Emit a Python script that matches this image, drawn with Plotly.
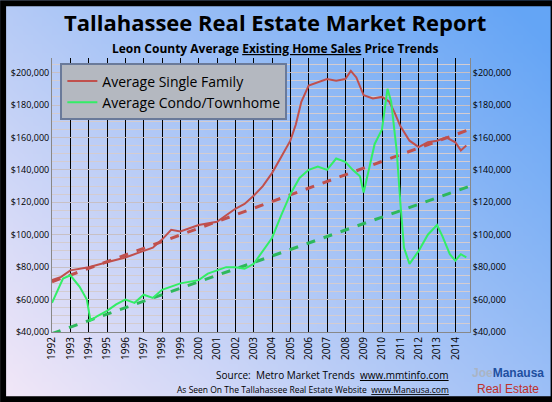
import plotly.graph_objects as go
import numpy as np, zlib, struct, base64

sf_x = [1992.0,1992.5,1993.0,1993.5,1994.0,1995.0,1996.0,1997.0,1997.5,1998.0,1998.5,1999.0,2000.0,2001.0,2001.5,2002.0,2002.5,2003.0,2003.5,2004.0,2004.5,2005.0,2005.3,2005.6,2006.0,2006.5,2007.0,2007.5,2008.0,2008.3,2008.6,2009.0,2009.5,2010.0,2010.4,2010.7,2011.0,2011.5,2012.0,2012.5,2013.0,2013.5,2014.0,2014.3,2014.6]
sf_y = [72000,74000,78000,79000,80000,83000,86000,90000,92000,97000,103000,102000,106000,108000,112000,116000,119000,124000,130000,138000,148000,158000,168000,182000,192000,194000,196000,195000,196000,201000,197000,186000,184000,185000,182000,175000,167000,158000,154000,157000,158000,160000,157000,152000,155000]
co_x = [1992.0,1992.3,1992.6,1993.0,1993.5,1993.9,1994.1,1994.5,1995.0,1995.5,1996.0,1996.5,1997.0,1997.5,1998.0,1999.0,2000.0,2000.5,2001.0,2001.5,2002.0,2002.5,2003.0,2003.5,2004.0,2004.5,2005.0,2005.5,2006.0,2006.5,2007.0,2007.5,2008.0,2008.4,2008.8,2009.0,2009.3,2009.6,2010.0,2010.3,2010.5,2010.8,2011.0,2011.2,2011.5,2012.0,2012.5,2013.0,2013.3,2013.7,2014.0,2014.3,2014.6]
co_y = [58000,66000,73000,75000,68000,60000,47000,50000,53000,57000,60000,58000,63000,61000,66000,70000,72000,76000,78000,80000,80000,79000,82000,90000,98000,112000,125000,135000,140000,142000,140000,147000,145000,140000,136000,126000,142000,156000,165000,190000,182000,152000,120000,92000,82000,90000,100000,106000,99000,88000,84000,88000,86000]
tr_x = [1992.0, 2014.8]
sf_tr = [71000, 165000]
co_tr = [39000, 130000]
years = list(range(1992, 2015))
yticks = [40000,60000,80000,100000,120000,140000,160000,180000,200000]
ytext = ["$40,000","$60,000","$80,000","$100,000","$120,000","$140,000","$160,000","$180,000","$200,000"]

W,H = 64,48
img = np.zeros((H,W,3))
c0 = np.array([250,235,248]); c1 = np.array([100,165,245])
for j in range(H):
    for i in range(W):
        t = (i/(W-1))*0.65 + (1-j/(H-1))*0.45
        t = min(max(t,0),1)
        img[j,i] = c0*(1-t)+c1*t
raw = b''.join(b'\x00'+img[j].astype(np.uint8).tobytes() for j in range(H))
def chunk(t,d): return struct.pack('>I',len(d))+t+d+struct.pack('>I',zlib.crc32(t+d)&0xffffffff)
png = b'\x89PNG\r\n\x1a\n'+chunk(b'IHDR',struct.pack('>IIBBBBB',W,H,8,2,0,0,0))+chunk(b'IDAT',zlib.compress(raw))+chunk(b'IEND',b'')
uri = 'data:image/png;base64,'+base64.b64encode(png).decode()

fig = go.Figure()
fig.add_trace(go.Scatter(x=tr_x, y=sf_tr, mode='lines', line=dict(color='#c0504d', width=3, dash='dash'), showlegend=False))
fig.add_trace(go.Scatter(x=tr_x, y=co_tr, mode='lines', line=dict(color='#2eb85c', width=3, dash='dash'), showlegend=False))
fig.add_trace(go.Scatter(x=sf_x, y=sf_y, mode='lines', name='Average Single Family', line=dict(color='#c0504d', width=2)))
fig.add_trace(go.Scatter(x=co_x, y=co_y, mode='lines', name='Average Condo/Townhome', line=dict(color='#33ee66', width=2)))
fig.add_trace(go.Scatter(x=[1992], y=[40000], yaxis='y2', mode='markers', marker=dict(opacity=0), showlegend=False, hoverinfo='skip'))

font = "Open Sans"
fig.update_layout(
    width=552, height=402, margin=dict(l=52, r=82, t=58, b=70),
    paper_bgcolor='white', plot_bgcolor='rgba(0,0,0,0)',
    images=[dict(source=uri, xref='paper', yref='paper', x=-0.2, y=1.3, sizex=1.5, sizey=1.6, sizing='stretch', layer='below')],
    xaxis=dict(range=[1992, 2014.8], tickvals=years, ticktext=[str(y) for y in years], tickangle=-90,
               showgrid=True, gridcolor='black', gridwidth=1, showline=True, linecolor='#888',
               tickfont=dict(family=font, size=10, color='black'), zeroline=False, ticks=''),
    yaxis=dict(range=[40000, 209000], tickvals=yticks, ticktext=ytext, showgrid=True, gridcolor='#c8c0c4',
               minor=dict(dtick=5000, showgrid=True, gridcolor='#d4ccd0'),
               showline=True, linecolor='#888', tickfont=dict(family=font, size=9, color='black'), zeroline=False),
    yaxis2=dict(range=[40000, 209000], overlaying='y', side='right', tickvals=yticks, ticktext=ytext,
                showgrid=False, showline=True, linecolor='#888', tickfont=dict(family=font, size=9, color='black')),
    legend=dict(x=0.02, y=0.98, xanchor='left', yanchor='top', bgcolor='#b4b8c0', bordercolor='#6a7a9a', borderwidth=2,
                font=dict(family=font, size=14, color='black'), tracegroupgap=10, itemwidth=30),
    shapes=[dict(type='rect', xref='paper', yref='paper', x0=-0.117, x1=1.2, y0=-0.245, y1=1.2,
                 line=dict(color='black', width=6))],
    annotations=[
        dict(text='<b>Tallahassee Real Estate Market Report</b>', xref='paper', yref='paper', x=0.533, y=1.13, showarrow=False,
             xanchor='center', yanchor='middle', font=dict(family=font, size=22, color='black')),
        dict(text='<b>Leon County Average <u>Existing Home Sales</u> Price Trends</b>', xref='paper', yref='paper', x=0.533, y=1.036,
             showarrow=False, xanchor='center', yanchor='middle', font=dict(family=font, size=12, color='black')),
        dict(text='Source:  Metro Market Trends  <u>www.mmtinfo.com</u>', xref='paper', yref='paper', x=0.955, y=-0.157, showarrow=False,
             xanchor='right', yanchor='middle', font=dict(family=font, size=10, color='black')),
        dict(text='As Seen On The Tallahassee Real Estate Website  <u>www.Manausa.com</u>', xref='paper', yref='paper', x=0.955, y=-0.21,
             showarrow=False, xanchor='right', yanchor='middle', font=dict(family=font, size=8.5, color='black')),
        dict(text='<b><span style="color:#aab4c4">Joe</span><span style="color:#1f4f9f">Manausa</span></b><br><span style="color:#c0302a">Real Estate</span>',
             xref='paper', yref='paper', x=1.09, y=-0.18, showarrow=False, xanchor='center', yanchor='middle', align='center',
             font=dict(family='Liberation Sans', size=12)),
    ],
)
fig.write_html("out.html", config={'displayModeBar': False}, post_script="document.body.style.margin='0';")
